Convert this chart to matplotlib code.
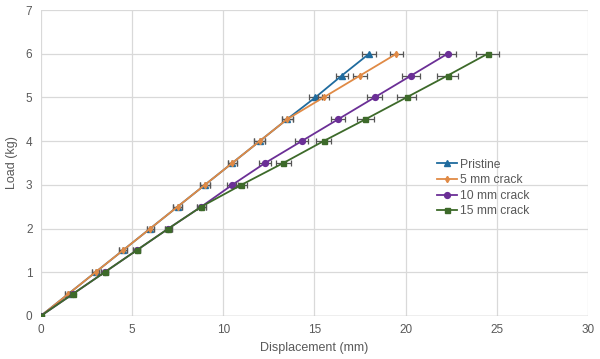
import numpy as np
import matplotlib
matplotlib.use("Agg")
import matplotlib.pyplot as plt

plt.rcParams['font.family'] = ['Liberation Sans', 'DejaVu Sans']

load = [0, 0.5, 1, 1.5, 2, 2.5, 3, 3.5, 4, 4.5, 5, 5.5, 6]

pristine_x = [0, 1.5, 3.0, 4.5, 6.0, 7.5, 9.0, 10.5, 12.0, 13.5, 15.05, 16.5, 18.0]
pristine_err = [0, 0.15, 0.2, 0.2, 0.2, 0.25, 0.25, 0.25, 0.3, 0.3, 0.36, 0.34, 0.37]

crack5_x = [0, 1.5, 3.0, 4.5, 6.0, 7.5, 9.0, 10.5, 12.0, 13.5, 15.5, 17.5, 19.5]
crack5_err = [0, 0.15, 0.2, 0.2, 0.2, 0.25, 0.25, 0.25, 0.3, 0.3, 0.32, 0.38, 0.38]

crack10_x = [0, 1.75, 3.5, 5.25, 7.0, 8.8, 10.5, 12.3, 14.3, 16.3, 18.3, 20.3, 22.3]
crack10_err = [0, 0.15, 0.2, 0.2, 0.2, 0.25, 0.3, 0.32, 0.37, 0.39, 0.43, 0.47, 0.46]

crack15_x = [0, 1.75, 3.5, 5.25, 7.0, 8.8, 11.0, 13.3, 15.5, 17.8, 20.05, 22.3, 24.5]
crack15_err = [0, 0.15, 0.2, 0.2, 0.2, 0.25, 0.3, 0.4, 0.43, 0.46, 0.51, 0.58, 0.62]

series = [
    ("Pristine", pristine_x, pristine_err, "#1f6b9e", "^", 4.2),
    ("5 mm crack", crack5_x, crack5_err, "#e08a45", "d", 3.2),
    ("10 mm crack", crack10_x, crack10_err, "#6b2f96", "o", 4.2),
    ("15 mm crack", crack15_x, crack15_err, "#3d6a2a", "s", 3.6),
]

fig = plt.figure(figsize=(6, 3.59), dpi=100)
ax = fig.add_axes([0.068, 0.12, 0.912, 0.852])

lines = []
for name, xs, err, col, mk, ms in series:
    ax.errorbar(xs, load, xerr=err, fmt="none", elinewidth=0.9, capsize=2,
                capthick=0.9, ecolor="#555555", zorder=3)
    ln, = ax.plot(xs, load, color=col, marker=mk, markersize=ms,
                  linewidth=1.3, label=name, zorder=3)
    lines.append(ln)

ax.set_xlim(0, 30)
ax.set_ylim(0, 7)
ax.set_xticks(range(0, 31, 5))
ax.set_yticks(range(0, 8))
ax.grid(True, color="#d9d9d9", linewidth=0.9)
ax.set_axisbelow(True)
for s in ax.spines.values():
    s.set_visible(False)
ax.axhline(0, color="#bfbfbf", linewidth=1, zorder=1)
ax.tick_params(length=0, labelsize=8.5, colors="#595959", pad=6)
ax.set_xlabel("Displacement (mm)", fontsize=9, color="#595959", labelpad=4)
ax.set_ylabel("Load (kg)", fontsize=9, color="#595959", labelpad=6)

leg = ax.legend(handles=lines, loc="upper left", bbox_to_anchor=(0.705, 0.55),
                frameon=False, fontsize=8.7, handlelength=1.6, handletextpad=0.3,
                labelspacing=0.3, labelcolor="#595959")

fig.savefig("out.png", dpi=100)
